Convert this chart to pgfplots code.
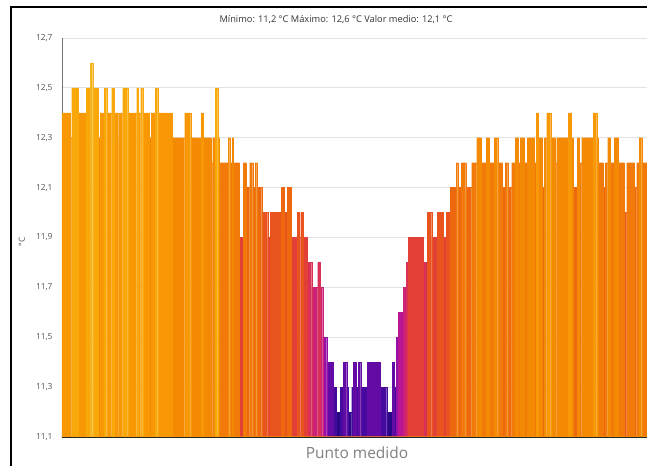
\documentclass[border=0pt]{standalone}
\usepackage{pgfplots}
\pgfplotsset{compat=1.18}
\usepackage{pgfplotstable}
\usepackage{fontspec}
\setmainfont{Open Sans}
\definecolor{tickgray}{HTML}{555555}
\definecolor{gridgray}{HTML}{E2E2E2}
% colours for 11.2, 11.3, ..., 12.6
\definecolor{lev0}{RGB}{40,8,135}
\definecolor{lev1}{RGB}{70,10,158}
\definecolor{lev2}{RGB}{98,12,165}
\definecolor{lev3}{RGB}{150,16,168}
\definecolor{lev4}{RGB}{185,22,150}
\definecolor{lev5}{RGB}{205,32,120}
\definecolor{lev6}{RGB}{216,48,86}
\definecolor{lev7}{RGB}{226,64,54}
\definecolor{lev8}{RGB}{233,84,30}
\definecolor{lev9}{RGB}{238,104,16}
\definecolor{lev10}{RGB}{241,122,8}
\definecolor{lev11}{RGB}{244,138,4}
\definecolor{lev12}{RGB}{247,152,4}
\definecolor{lev13}{RGB}{249,168,10}
\definecolor{lev14}{RGB}{246,180,30}
\pgfplotstableread{
x y
62 12.4
70 12.3
71.7 12.5
78.3 12.4
86 12.5
90 12.6
92.7 12.5
98.3 12.3
100 12.4
104.3 12.5
106.7 12.4
111.7 12.5
114.3 12.4
118.7 12.3
120.3 12.4
122.7 12.5
127.7 12.4
136.7 12.5
138.5 12.4
140.7 12.5
142.7 12.4
149.3 12.3
151 12.4
155 12.5
157.7 12.4
159.5 12.3
160.5 12.4
162 12.3
163 12.4
167.5 12.3
168.5 12.4
172 12.3
181 12.2
182.5 12.3
184.7 12.4
190.7 12.3
197 12.1
198.5 12.3
201 12.4
203 12.3
211.3 12.2
212.7 12.3
215.5 12.5
217.7 12.3
219.5 12.2
228 12.3
229.7 12.2
232 12.3
233.3 12.2
239.3 11.9
243.3 12.2
246 12.1
249.7 12.2
252.7 12.1
255 12.2
256.7 12.1
261.7 12.0
267.7 11.9
270 12.0
281 12.1
284.3 12.0
287.3 12.1
291 11.9
297.5 12.0
299.3 11.9
300.7 12.0
303.3 11.9
307.3 11.8
311.7 11.7
317.7 11.8
320 11.7
322.7 11.5
326.7 11.4
333.3 11.3
336 11.2
340 11.3
343.3 11.4
346.7 11.3
348.3 11.2
351.7 11.3
353.3 11.4
356 11.3
358.3 11.4
360.7 11.3
367.3 11.4
380 11.3
386.7 11.2
392.3 11.4
394.3 11.3
396.3 11.5
398.3 11.6
403.3 11.7
406 11.8
408.3 11.9
423.3 11.8
427 12.0
431.7 11.9
437 12.0
443.5 11.9
446 12.0
450 12.1
456 12.2
457.7 12.1
461 12.2
465.7 12.1
471.7 12.2
476.7 12.3
481 12.2
486 12.3
489 12.2
494.3 12.3
497.7 12.2
502.3 12.1
505 12.2
507.7 12.1
511.7 12.2
515 12.3
518.3 12.2
520 12.3
524 12.2
527.3 12.3
534.3 12.2
536 12.4
538.3 12.3
542.5 12.1
544.5 12.3
546.7 12.4
550.7 12.3
555 12.2
556.7 12.3
568.3 12.4
571 12.3
573.3 12.1
577.3 12.3
579 12.2
581.7 12.3
593.3 12.4
596.7 12.3
598.3 12.2
603.3 12.1
605 12.2
607.7 12.3
610 12.2
614.3 12.3
618.3 12.2
624.3 12.0
626.7 12.2
634.3 12.1
636.7 12.2
639 12.3
641.7 12.2
647 12.2
}\profile
\begin{document}
\begin{tikzpicture}[x=1bp,y=1bp]
\useasboundingbox (-62,-29) rectangle (585,437);
\draw[black, line width=2bp] (-51,-29) -- (-51,430) -- (585,430);
\begin{axis}[
  at={(0,0)}, anchor=south west,
  scale only axis, width=585bp, height=399bp,
  xmin=62, xmax=647, ymin=11.1, ymax=12.7,
  axis x line=bottom, axis y line=left,
  axis line style={-},
  x axis line style={draw=black!85, line width=1.2bp},
  y axis line style={draw=black!55, line width=0.8bp},
  xtick=\empty,
  ytick={11.1,11.3,11.5,11.7,11.9,12.1,12.3,12.5,12.7},
  ymajorgrids, grid style={gridgray, line width=0.8bp},
  major tick length=0pt,
  yticklabel style={font=\fontsize{8.4}{9}\selectfont, text=tickgray, xshift=-6bp,
    /pgf/number format/.cd, use comma, fixed, fixed zerofill, precision=1, assume math mode=true},
  clip=true,
]
\pgfplotsinvokeforeach{0,...,14}{
  \addplot[ybar interval, draw=lev#1, line width=0.2bp, fill=lev#1,
    y filter/.expression={abs(y-(11.2+#1*0.1))<0.04 ? y : 0}]
    table[x=x,y=y] {\profile};
}
\end{axis}
\node[font=\fontsize{9.3}{11}\selectfont, text=black!80] at (274,417) {Mínimo: 11,2 °C Máximo: 12,6 °C Valor medio: 12,1 °C};
\node[font=\fontsize{8.4}{10}\selectfont, text=tickgray, rotate=90] at (-40,195) {°C};
\node[font=\fontsize{15.5}{18}\selectfont, text=black!50] at (295,-16) {Punto medido};
\end{tikzpicture}
\end{document}
